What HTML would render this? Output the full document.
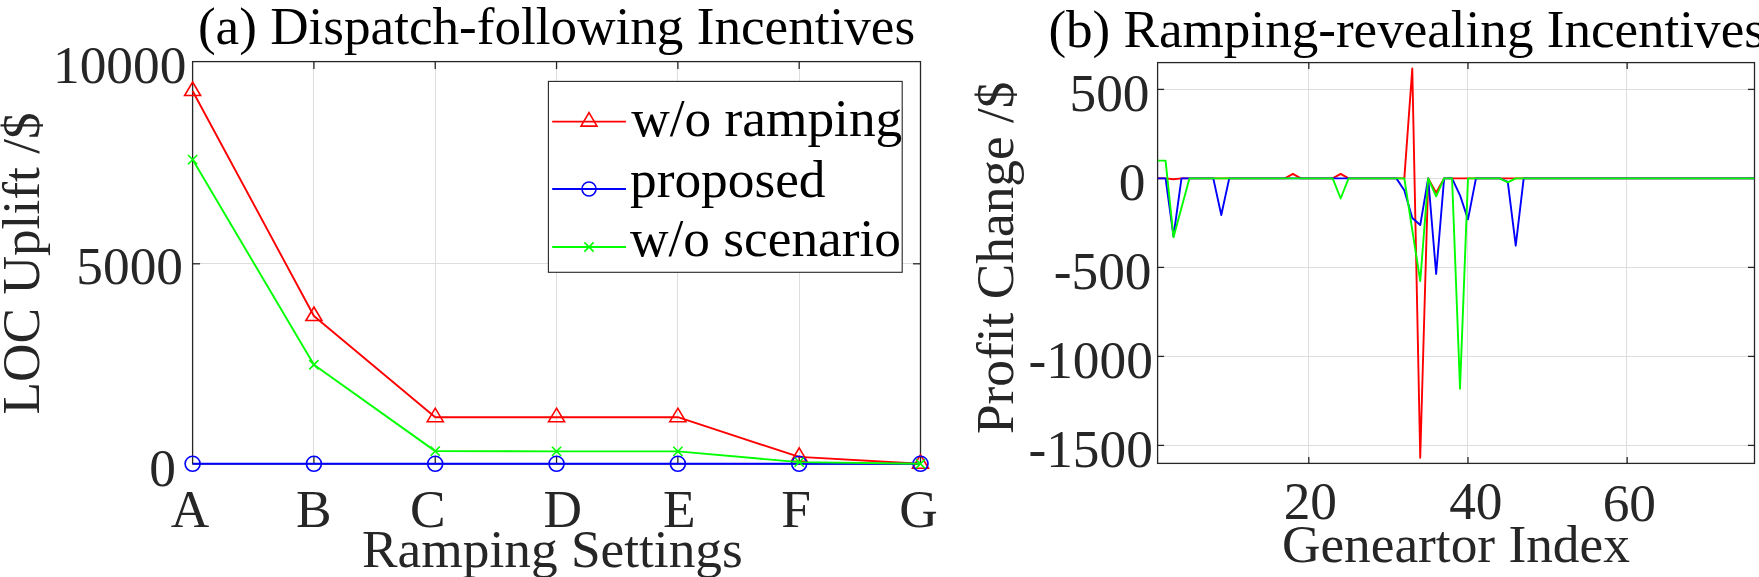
<!DOCTYPE html>
<html><head><meta charset="utf-8"><style>
html,body{margin:0;padding:0;background:#fff;}
body{width:1759px;height:577px;overflow:hidden;}
svg text{font-family:"Liberation Serif",serif;font-size:53.33px;}
</style></head><body>
<svg width="1759" height="577" viewBox="0 0 1759 577" style="display:block">
<rect width="1759" height="577" fill="#fff"/>
<line x1="313.5" y1="61.6" x2="313.5" y2="463.9" stroke="#dedede" stroke-width="1"/>
<line x1="435.5" y1="61.6" x2="435.5" y2="463.9" stroke="#dedede" stroke-width="1"/>
<line x1="556.5" y1="61.6" x2="556.5" y2="463.9" stroke="#dedede" stroke-width="1"/>
<line x1="677.5" y1="61.6" x2="677.5" y2="463.9" stroke="#dedede" stroke-width="1"/>
<line x1="799.5" y1="61.6" x2="799.5" y2="463.9" stroke="#dedede" stroke-width="1"/>
<line x1="192.6" y1="263.5" x2="920.5" y2="263.5" stroke="#dedede" stroke-width="1"/>
<line x1="313.92" y1="61.6" x2="313.92" y2="69.1" stroke="#262626" stroke-width="1.3"/>
<line x1="313.92" y1="463.9" x2="313.92" y2="456.4" stroke="#262626" stroke-width="1.3"/>
<line x1="435.23" y1="61.6" x2="435.23" y2="69.1" stroke="#262626" stroke-width="1.3"/>
<line x1="435.23" y1="463.9" x2="435.23" y2="456.4" stroke="#262626" stroke-width="1.3"/>
<line x1="556.55" y1="61.6" x2="556.55" y2="69.1" stroke="#262626" stroke-width="1.3"/>
<line x1="556.55" y1="463.9" x2="556.55" y2="456.4" stroke="#262626" stroke-width="1.3"/>
<line x1="677.87" y1="61.6" x2="677.87" y2="69.1" stroke="#262626" stroke-width="1.3"/>
<line x1="677.87" y1="463.9" x2="677.87" y2="456.4" stroke="#262626" stroke-width="1.3"/>
<line x1="799.18" y1="61.6" x2="799.18" y2="69.1" stroke="#262626" stroke-width="1.3"/>
<line x1="799.18" y1="463.9" x2="799.18" y2="456.4" stroke="#262626" stroke-width="1.3"/>
<line x1="192.6" y1="263.80" x2="200.1" y2="263.80" stroke="#262626" stroke-width="1.3"/>
<line x1="920.5" y1="263.80" x2="913.0" y2="263.80" stroke="#262626" stroke-width="1.3"/>
<rect x="192.6" y="61.6" width="727.90" height="402.30" fill="none" stroke="#262626" stroke-width="1.3"/>
<g fill="none" stroke-width="1.9" stroke-linejoin="round">
<polyline points="192.60,91.00 313.92,316.00 435.23,417.20 556.55,417.20 677.87,417.20 799.18,456.92 920.50,463.80" stroke="#ff0000"/>
<path d="M192.60,82.00 L200.60,95.50 L184.60,95.50 Z" fill="none" stroke="#ff0000" stroke-width="1.6" stroke-linejoin="miter"/>
<path d="M313.92,307.00 L321.92,320.50 L305.92,320.50 Z" fill="none" stroke="#ff0000" stroke-width="1.6" stroke-linejoin="miter"/>
<path d="M435.23,408.20 L443.23,421.70 L427.23,421.70 Z" fill="none" stroke="#ff0000" stroke-width="1.6" stroke-linejoin="miter"/>
<path d="M556.55,408.20 L564.55,421.70 L548.55,421.70 Z" fill="none" stroke="#ff0000" stroke-width="1.6" stroke-linejoin="miter"/>
<path d="M677.87,408.20 L685.87,421.70 L669.87,421.70 Z" fill="none" stroke="#ff0000" stroke-width="1.6" stroke-linejoin="miter"/>
<path d="M799.18,447.92 L807.18,461.42 L791.18,461.42 Z" fill="none" stroke="#ff0000" stroke-width="1.6" stroke-linejoin="miter"/>
<path d="M920.50,454.80 L928.50,468.30 L912.50,468.30 Z" fill="none" stroke="#ff0000" stroke-width="1.6" stroke-linejoin="miter"/>
<polyline points="192.60,463.80 313.92,463.80 435.23,463.80 556.55,463.80 677.87,463.80 799.18,463.80 920.50,463.80" stroke="#0000ff"/>
<circle cx="192.60" cy="463.80" r="7.5" fill="none" stroke="#0000ff" stroke-width="1.6"/>
<circle cx="313.92" cy="463.80" r="7.5" fill="none" stroke="#0000ff" stroke-width="1.6"/>
<circle cx="435.23" cy="463.80" r="7.5" fill="none" stroke="#0000ff" stroke-width="1.6"/>
<circle cx="556.55" cy="463.80" r="7.5" fill="none" stroke="#0000ff" stroke-width="1.6"/>
<circle cx="677.87" cy="463.80" r="7.5" fill="none" stroke="#0000ff" stroke-width="1.6"/>
<circle cx="799.18" cy="463.80" r="7.5" fill="none" stroke="#0000ff" stroke-width="1.6"/>
<circle cx="920.50" cy="463.80" r="7.5" fill="none" stroke="#0000ff" stroke-width="1.6"/>
<polyline points="192.60,159.60 313.92,364.72 435.23,451.12 556.55,451.40 677.87,451.40 799.18,462.12 920.50,463.80" stroke="#00ff00"/>
<path d="M188.00,155.00 L197.20,164.20 M188.00,164.20 L197.20,155.00" stroke="#00ff00" stroke-width="1.6"/>
<path d="M309.32,360.12 L318.52,369.32 M309.32,369.32 L318.52,360.12" stroke="#00ff00" stroke-width="1.6"/>
<path d="M430.63,446.52 L439.83,455.72 M430.63,455.72 L439.83,446.52" stroke="#00ff00" stroke-width="1.6"/>
<path d="M551.95,446.80 L561.15,456.00 M551.95,456.00 L561.15,446.80" stroke="#00ff00" stroke-width="1.6"/>
<path d="M673.27,446.80 L682.47,456.00 M673.27,456.00 L682.47,446.80" stroke="#00ff00" stroke-width="1.6"/>
<path d="M794.58,457.52 L803.78,466.72 M794.58,466.72 L803.78,457.52" stroke="#00ff00" stroke-width="1.6"/>
<path d="M915.90,459.20 L925.10,468.40 M915.90,468.40 L925.10,459.20" stroke="#00ff00" stroke-width="1.6"/>
</g>
<rect x="548.4" y="81.4" width="353.80" height="190.90" fill="#fff" stroke="#262626" stroke-width="1.1"/>
<line x1="552.2" y1="121.6" x2="626" y2="121.6" stroke="#ff0000" stroke-width="1.9"/>
<path d="M589.00,112.60 L597.00,126.10 L581.00,126.10 Z" fill="none" stroke="#ff0000" stroke-width="1.6" stroke-linejoin="miter"/>
<text x="631.20" y="135.80" text-anchor="start" fill="#000" >w/o ramping</text>
<line x1="552.2" y1="189.0" x2="626" y2="189.0" stroke="#0000ff" stroke-width="1.9"/>
<circle cx="589.00" cy="189.00" r="7" fill="none" stroke="#0000ff" stroke-width="1.6"/>
<text x="630.00" y="197.30" text-anchor="start" fill="#000" >proposed</text>
<line x1="552.2" y1="247.0" x2="626" y2="247.0" stroke="#00ff00" stroke-width="1.9"/>
<path d="M584.40,242.40 L593.60,251.60 M584.40,251.60 L593.60,242.40" stroke="#00ff00" stroke-width="1.6"/>
<text x="630.00" y="255.70" text-anchor="start" fill="#000" >w/o scenario</text>
<text x="186.30" y="83.00" text-anchor="end" fill="#262626" >10000</text>
<text x="183.00" y="284.10" text-anchor="end" fill="#262626" >5000</text>
<text x="176.00" y="486.00" text-anchor="end" fill="#262626" >0</text>
<text x="190.00" y="526.60" text-anchor="middle" fill="#262626" >A</text>
<text x="313.80" y="526.60" text-anchor="middle" fill="#262626" >B</text>
<text x="427.80" y="526.60" text-anchor="middle" fill="#262626" >C</text>
<text x="562.70" y="526.60" text-anchor="middle" fill="#262626" >D</text>
<text x="679.20" y="526.60" text-anchor="middle" fill="#262626" >E</text>
<text x="796.00" y="526.60" text-anchor="middle" fill="#262626" >F</text>
<text x="918.40" y="526.60" text-anchor="middle" fill="#262626" >G</text>
<text x="552.40" y="567.20" text-anchor="middle" fill="#262626" >Ramping Settings</text>
<text x="0" y="0" transform="translate(38.8,263.45) rotate(-90)" text-anchor="middle" fill="#262626">LOC Uplift /$</text>
<text x="556.50" y="43.80" text-anchor="middle" fill="#000" style="font-size:53.15px">(a) Dispatch-following Incentives</text>
<line x1="1308.5" y1="62.6" x2="1308.5" y2="463.4" stroke="#dedede" stroke-width="1"/>
<line x1="1467.5" y1="62.6" x2="1467.5" y2="463.4" stroke="#dedede" stroke-width="1"/>
<line x1="1626.5" y1="62.6" x2="1626.5" y2="463.4" stroke="#dedede" stroke-width="1"/>
<line x1="1157.6" y1="89.5" x2="1754.5" y2="89.5" stroke="#dedede" stroke-width="1"/>
<line x1="1157.6" y1="178.5" x2="1754.5" y2="178.5" stroke="#dedede" stroke-width="1"/>
<line x1="1157.6" y1="267.5" x2="1754.5" y2="267.5" stroke="#dedede" stroke-width="1"/>
<line x1="1157.6" y1="356.5" x2="1754.5" y2="356.5" stroke="#dedede" stroke-width="1"/>
<line x1="1157.6" y1="445.5" x2="1754.5" y2="445.5" stroke="#dedede" stroke-width="1"/>
<line x1="1308.81" y1="62.6" x2="1308.81" y2="69.1" stroke="#262626" stroke-width="1.3"/>
<line x1="1308.81" y1="463.4" x2="1308.81" y2="456.9" stroke="#262626" stroke-width="1.3"/>
<line x1="1467.99" y1="62.6" x2="1467.99" y2="69.1" stroke="#262626" stroke-width="1.3"/>
<line x1="1467.99" y1="463.4" x2="1467.99" y2="456.9" stroke="#262626" stroke-width="1.3"/>
<line x1="1627.16" y1="62.6" x2="1627.16" y2="69.1" stroke="#262626" stroke-width="1.3"/>
<line x1="1627.16" y1="463.4" x2="1627.16" y2="456.9" stroke="#262626" stroke-width="1.3"/>
<line x1="1157.6" y1="89.40" x2="1164.1" y2="89.40" stroke="#262626" stroke-width="1.3"/>
<line x1="1754.5" y1="89.40" x2="1748.0" y2="89.40" stroke="#262626" stroke-width="1.3"/>
<line x1="1157.6" y1="178.40" x2="1164.1" y2="178.40" stroke="#262626" stroke-width="1.3"/>
<line x1="1754.5" y1="178.40" x2="1748.0" y2="178.40" stroke="#262626" stroke-width="1.3"/>
<line x1="1157.6" y1="267.40" x2="1164.1" y2="267.40" stroke="#262626" stroke-width="1.3"/>
<line x1="1754.5" y1="267.40" x2="1748.0" y2="267.40" stroke="#262626" stroke-width="1.3"/>
<line x1="1157.6" y1="356.40" x2="1164.1" y2="356.40" stroke="#262626" stroke-width="1.3"/>
<line x1="1754.5" y1="356.40" x2="1748.0" y2="356.40" stroke="#262626" stroke-width="1.3"/>
<line x1="1157.6" y1="445.40" x2="1164.1" y2="445.40" stroke="#262626" stroke-width="1.3"/>
<line x1="1754.5" y1="445.40" x2="1748.0" y2="445.40" stroke="#262626" stroke-width="1.3"/>
<rect x="1157.6" y="62.6" width="596.90" height="400.80" fill="none" stroke="#262626" stroke-width="1.3"/>
<svg x="1157.6" y="62.6" width="596.9000000000001" height="400.79999999999995" overflow="hidden"><g transform="translate(-1157.6,-62.6)" fill="none" stroke-width="1.9" stroke-linejoin="round">
<polyline points="1157.60,178.40 1165.56,178.40 1173.52,179.29 1181.48,178.40 1189.43,178.40 1197.39,178.40 1205.35,178.40 1213.31,178.40 1221.27,178.40 1229.23,178.40 1237.19,178.40 1245.15,178.40 1253.10,178.40 1261.06,178.40 1269.02,178.40 1276.98,178.40 1284.94,178.40 1292.90,173.95 1300.86,178.40 1308.81,178.40 1316.77,178.40 1324.73,178.40 1332.69,178.40 1340.65,173.95 1348.61,178.40 1356.57,178.40 1364.53,178.40 1372.48,178.40 1380.44,178.40 1388.40,178.40 1396.36,178.40 1404.32,178.40 1412.28,68.57 1420.24,457.68 1428.19,178.40 1436.15,192.64 1444.11,178.40 1452.07,178.40 1460.03,178.40 1467.99,178.40 1475.95,178.40 1483.91,178.40 1491.86,178.40 1499.82,178.40 1507.78,178.40 1515.74,178.40 1523.70,178.40 1531.66,178.40 1539.62,178.40 1547.57,178.40 1555.53,178.40 1563.49,178.40 1571.45,178.40 1579.41,178.40 1587.37,178.40 1595.33,178.40 1603.29,178.40 1611.24,178.40 1619.20,178.40 1627.16,178.40 1635.12,178.40 1643.08,178.40 1651.04,178.40 1659.00,178.40 1666.95,178.40 1674.91,178.40 1682.87,178.40 1690.83,178.40 1698.79,178.40 1706.75,178.40 1714.71,178.40 1722.67,178.40 1730.62,178.40 1738.58,178.40 1746.54,178.40 1754.50,178.40" stroke="#ff0000"/>
<polyline points="1157.60,178.40 1165.56,178.40 1173.52,236.25 1181.48,178.40 1189.43,178.40 1197.39,178.40 1205.35,178.40 1213.31,178.40 1221.27,215.07 1229.23,178.40 1237.19,178.40 1245.15,178.40 1253.10,178.40 1261.06,178.40 1269.02,178.40 1276.98,178.40 1284.94,178.40 1292.90,178.40 1300.86,178.40 1308.81,178.40 1316.77,178.40 1324.73,178.40 1332.69,178.40 1340.65,178.40 1348.61,178.40 1356.57,178.40 1364.53,178.40 1372.48,178.40 1380.44,178.40 1388.40,178.40 1396.36,178.40 1404.32,190.33 1412.28,218.09 1420.24,225.04 1428.19,178.40 1436.15,273.99 1444.11,178.40 1452.07,178.40 1460.03,195.31 1467.99,219.34 1475.95,178.40 1483.91,178.40 1491.86,178.40 1499.82,178.40 1507.78,181.96 1515.74,245.68 1523.70,178.40 1531.66,178.40 1539.62,178.40 1547.57,178.40 1555.53,178.40 1563.49,178.40 1571.45,178.40 1579.41,178.40 1587.37,178.40 1595.33,178.40 1603.29,178.40 1611.24,178.40 1619.20,178.40 1627.16,178.40 1635.12,178.40 1643.08,178.40 1651.04,178.40 1659.00,178.40 1666.95,178.40 1674.91,178.40 1682.87,178.40 1690.83,178.40 1698.79,178.40 1706.75,178.40 1714.71,178.40 1722.67,178.40 1730.62,178.40 1738.58,178.40 1746.54,178.40 1754.50,178.40" stroke="#0000ff"/>
<polyline points="1157.60,160.60 1165.56,160.60 1173.52,237.14 1181.48,207.77 1189.43,178.40 1197.39,178.40 1205.35,178.40 1213.31,178.40 1221.27,178.40 1229.23,178.40 1237.19,178.40 1245.15,178.40 1253.10,178.40 1261.06,178.40 1269.02,178.40 1276.98,178.40 1284.94,178.40 1292.90,178.40 1300.86,178.40 1308.81,178.40 1316.77,178.40 1324.73,178.40 1332.69,178.40 1340.65,198.51 1348.61,178.40 1356.57,178.40 1364.53,178.40 1372.48,178.40 1380.44,178.40 1388.40,178.40 1396.36,178.40 1404.32,178.40 1412.28,230.02 1420.24,281.11 1428.19,178.40 1436.15,196.38 1444.11,178.40 1452.07,178.40 1460.03,388.62 1467.99,178.40 1475.95,178.40 1483.91,178.40 1491.86,178.40 1499.82,178.40 1507.78,182.32 1515.74,178.40 1523.70,178.40 1531.66,178.40 1539.62,178.40 1547.57,178.40 1555.53,178.40 1563.49,178.40 1571.45,178.40 1579.41,178.40 1587.37,178.40 1595.33,178.40 1603.29,178.40 1611.24,178.40 1619.20,178.40 1627.16,178.40 1635.12,178.40 1643.08,178.40 1651.04,178.40 1659.00,178.40 1666.95,178.40 1674.91,178.40 1682.87,178.40 1690.83,178.40 1698.79,178.40 1706.75,178.40 1714.71,178.40 1722.67,178.40 1730.62,178.40 1738.58,178.40 1746.54,178.40 1754.50,178.40" stroke="#00ff00"/>
</g></svg>
<text x="1149.50" y="111.00" text-anchor="end" fill="#262626" >500</text>
<text x="1145.50" y="199.50" text-anchor="end" fill="#262626" >0</text>
<text x="1151.50" y="289.00" text-anchor="end" fill="#262626" >-500</text>
<text x="1152.80" y="378.00" text-anchor="end" fill="#262626" >-1000</text>
<text x="1152.80" y="467.00" text-anchor="end" fill="#262626" >-1500</text>
<text x="1310.30" y="519.00" text-anchor="middle" fill="#262626" >20</text>
<text x="1475.80" y="519.00" text-anchor="middle" fill="#262626" >40</text>
<text x="1629.30" y="520.70" text-anchor="middle" fill="#262626" >60</text>
<text x="1455.90" y="561.80" text-anchor="middle" fill="#262626" >Geneartor Index</text>
<text x="0" y="0" transform="translate(1012.8,257.8) rotate(-90)" text-anchor="middle" fill="#262626">Profit Change /$</text>
<text x="1048.40" y="46.60" text-anchor="start" fill="#000" style="font-size:53.1px">(b) Ramping-revealing Incentives</text>
</svg>
</body></html>
